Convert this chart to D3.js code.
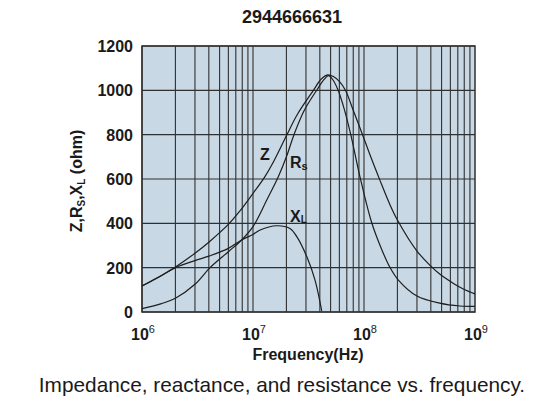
<!DOCTYPE html>
<html>
<head>
<meta charset="utf-8">
<script src="https://cdn.jsdelivr.net/npm/d3@7"></script>
<style>
  body { margin: 0; background: #fff; }
  svg text { font-family: "Liberation Sans", Arial, sans-serif; fill: #1a1a1a; }
</style>
</head>
<body>
<svg id="chart" width="548" height="402"></svg>
<script>
// values (frequency in Hz, ohm)
var zFreq  = [1e6, 1.5e6, 2e6, 3e6, 4e6, 6e6, 7.6e6, 1e7, 1.26e7, 1.5e7, 2e7, 2.5e7, 3.5e7, 4.1e7, 4.7e7, 5.3e7, 6e7, 6.8e7, 8e7, 9.7e7, 1.15e8, 1.39e8, 1.71e8, 2e8, 3e8, 4e8, 4.84e8, 6.4e8, 7.85e8, 1e9];
var zVals  = [117, 165, 203, 265, 315, 395, 455, 535, 605, 670, 795, 890, 1000, 1050, 1070, 1062, 1040, 1000, 910, 800, 700, 595, 485, 415, 275, 207, 170, 129, 104, 82];

var rsFreq = [1e6, 1.5e6, 2e6, 3e6, 4.1e6, 6e6, 7.9e6, 1e7, 1.33e7, 1.69e7, 2e7, 2.34e7, 2.9e7, 3.8e7, 4.3e7, 4.8e7, 5.2e7, 5.8e7, 6.6e7, 7.6e7, 9.2e7, 1.17e8, 1.45e8, 1.71e8, 2.04e8, 3e8, 4.8e8, 7.3e8, 1e9];
var rsVals = [15, 38, 62, 125, 200, 272, 325, 385, 505, 610, 700, 800, 910, 1005, 1045, 1066, 1050, 1005, 920, 800, 610, 405, 280, 202, 144, 72, 40, 27, 25];

var xlFreq = [1e6, 1.5e6, 2e6, 3e6, 4e6, 6e6, 7.9e6, 1e7, 1.16e7, 1.63e7, 2.15e7, 2.48e7, 3.05e7, 3.62e7, 4.16e7];
var xlVals = [117, 165, 200, 232, 252, 287, 325, 350, 370, 389, 377, 340, 250, 144, 5];

var yTicks = [0, 200, 400, 600, 800, 1000, 1200];
var xDecades = [6, 7, 8, 9];

var svg = d3.select("#chart");
var pLeft = 142, pRight = 475, pTop = 46, pBottom = 312;

var x = d3.scaleLog().domain([1e6, 1e9]).range([pLeft, pRight]);
var y = d3.scaleLinear().domain([0, 1200]).range([pBottom, pTop]);

// plot background
svg.append("rect")
	.attr("x", pLeft).attr("y", pTop)
	.attr("width", pRight - pLeft).attr("height", pBottom - pTop)
	.attr("fill", "#c8d8e4");

// vertical grid: 2..9 in every decade
var minor = [];
for (var d = 6; d < 9; d++) {
	for (var k = 1; k <= 9; k++) minor.push(k * Math.pow(10, d));
}
svg.append("g").selectAll("line")
	.data(minor)
	.join("line")
		.attr("x1", d => x(d)).attr("x2", d => x(d))
		.attr("y1", pTop).attr("y2", pBottom)
		.attr("stroke", "#303030")
		.attr("stroke-width", 1.1);

// horizontal grid
svg.append("g").selectAll("line")
	.data(yTicks)
	.join("line")
		.attr("x1", pLeft).attr("x2", pRight)
		.attr("y1", d => y(d)).attr("y2", d => y(d))
		.attr("stroke", "#303030")
		.attr("stroke-width", 1.1);

svg.append("rect")
	.attr("x", pLeft).attr("y", pTop)
	.attr("width", pRight - pLeft).attr("height", pBottom - pTop)
	.attr("fill", "none")
	.attr("stroke", "#303030")
	.attr("stroke-width", 1.5);

// curves
var line = d3.line()
	.x(d => x(d[0]))
	.y(d => y(d[1]))
	.curve(d3.curveCatmullRom.alpha(0.5));

[[zFreq, zVals], [rsFreq, rsVals], [xlFreq, xlVals]].forEach(function(s) {
	svg.append("path")
		.datum(d3.zip(s[0], s[1]))
		.attr("d", line)
		.attr("fill", "none")
		.attr("stroke", "#1e1e1e")
		.attr("stroke-width", 1.2);
});

// y tick labels
svg.append("g").selectAll("text")
	.data(yTicks)
	.join("text")
		.attr("x", pLeft - 9)
		.attr("y", d => y(d) + 6)
		.attr("text-anchor", "end")
		.attr("font-size", 16)
		.attr("font-weight", "bold")
		.text(d => d);

// x tick labels 10^n
var xl = svg.append("g").selectAll("text")
	.data(xDecades)
	.join("text")
		.attr("x", d => x(Math.pow(10, d)) + 1)
		.attr("y", 340)
		.attr("text-anchor", "middle")
		.attr("font-size", 16)
		.attr("font-weight", "bold");
xl.append("tspan").text("10");
xl.append("tspan").attr("dy", -7).attr("font-size", 11).attr("font-weight", "normal").text(d => d);

// title
svg.append("text")
	.attr("x", 292).attr("y", 23)
	.attr("text-anchor", "middle")
	.attr("font-size", 18)
	.attr("font-weight", "bold")
	.text("2944666631");

// axis titles
svg.append("text")
	.attr("x", 308).attr("y", 360)
	.attr("text-anchor", "middle")
	.attr("font-size", 16)
	.attr("font-weight", "bold")
	.text("Frequency(Hz)");

var yl = svg.append("text")
	.attr("transform", "translate(82,181) rotate(-90)")
	.attr("text-anchor", "middle")
	.attr("font-size", 16)
	.attr("font-weight", "bold");
yl.append("tspan").text("Z,R");
yl.append("tspan").attr("font-size", 10).attr("dy", 3).text("S");
yl.append("tspan").attr("dy", -3).text(",X");
yl.append("tspan").attr("font-size", 10).attr("dy", 3).text("L");
yl.append("tspan").attr("dy", -3).text(" (ohm)");

// curve labels
svg.append("text")
	.attr("x", 260).attr("y", 160)
	.attr("font-size", 16).attr("font-weight", "bold")
	.text("Z");
var rl = svg.append("text")
	.attr("x", 290).attr("y", 168)
	.attr("font-size", 16).attr("font-weight", "bold");
rl.append("tspan").text("R");
rl.append("tspan").attr("font-size", 11).attr("dy", 2).text("s");
var xll = svg.append("text")
	.attr("x", 290).attr("y", 222)
	.attr("font-size", 16).attr("font-weight", "bold");
xll.append("tspan").text("X");
xll.append("tspan").attr("font-size", 10).attr("dy", 1).text("L");

// caption
svg.append("text")
	.attr("x", 282).attr("y", 392)
	.attr("text-anchor", "middle")
	.attr("font-size", 20.8)
	.text("Impedance, reactance, and resistance vs. frequency.");
</script>
</body>
</html>
